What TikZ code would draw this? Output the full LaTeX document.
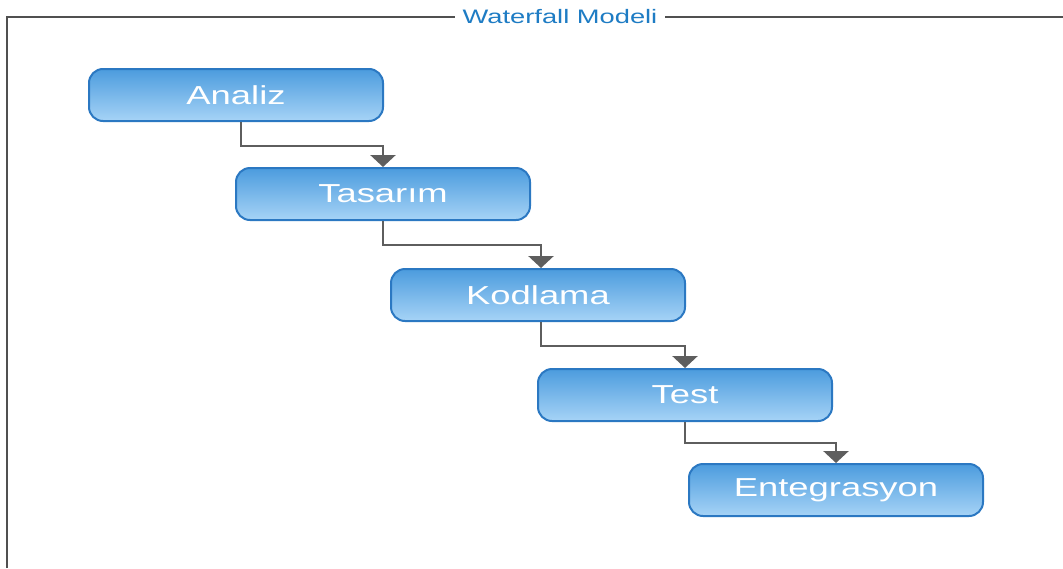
\documentclass[tikz,border=0pt]{standalone}
\usepackage{fontspec}
\newfontfamily\boxfont[FakeStretch=1.4]{Liberation Sans}
\usetikzlibrary{arrows.meta}
\definecolor{boxtop}{HTML}{4C9CDE}
\definecolor{boxbot}{HTML}{A6D3F6}
\definecolor{boxline}{HTML}{2B78C2}
\definecolor{titleblue}{HTML}{1E7CC4}
\definecolor{arrgray}{HTML}{5E5E5E}
\definecolor{framegray}{HTML}{505050}
\tikzset{
  stage/.style={draw=boxline, line width=2pt, rounded corners=14pt,
    top color=boxtop, bottom color=boxbot, minimum width=294pt, minimum height=52pt,
    text=white, font=\boxfont\fontsize{26}{29}\selectfont, inner sep=0pt},
  flow/.style={draw=arrgray, line width=2.8pt, -{Triangle[width=25pt,length=12pt]}},
  frame/.style={draw=framegray, line width=2.2pt},
  title/.style={fill=white, text=titleblue, font=\boxfont\fontsize{19.5}{22}\selectfont, inner xsep=8pt}
}
\begin{document}
\begin{tikzpicture}[x=1pt,y=-1pt]
\useasboundingbox (0,0) rectangle (1063,568);
\coordinate (fl) at (7,568);
\coordinate (ftl) at (7,17);
\coordinate (ftr) at (1063,17);
\draw[frame] (fl) -- (ftl) -- (ftr);
\node[title] (ttl) at (560,17) {Waterfall Modeli};
\node[stage] (analiz) at (236,95) {Analiz};
\node[stage] (tasarim) at (383,194) {Tasarım};
\node[stage] (kodlama) at (538,295) {Kodlama};
\node[stage] (test) at (685,395) {Test};
\node[stage] (enteg) at (836,490) {Entegrasyon};
\draw[flow] ([xshift=5pt]analiz.south) -- ++(0,24) -| (tasarim.north);
\draw[flow] (tasarim.south) -- ++(0,24) -| ([xshift=3pt]kodlama.north);
\draw[flow] ([xshift=3pt]kodlama.south) -- ++(0,24) -| (test.north);
\draw[flow] (test.south) -- ++(0,21) -| (enteg.north);
\end{tikzpicture}
\end{document}
